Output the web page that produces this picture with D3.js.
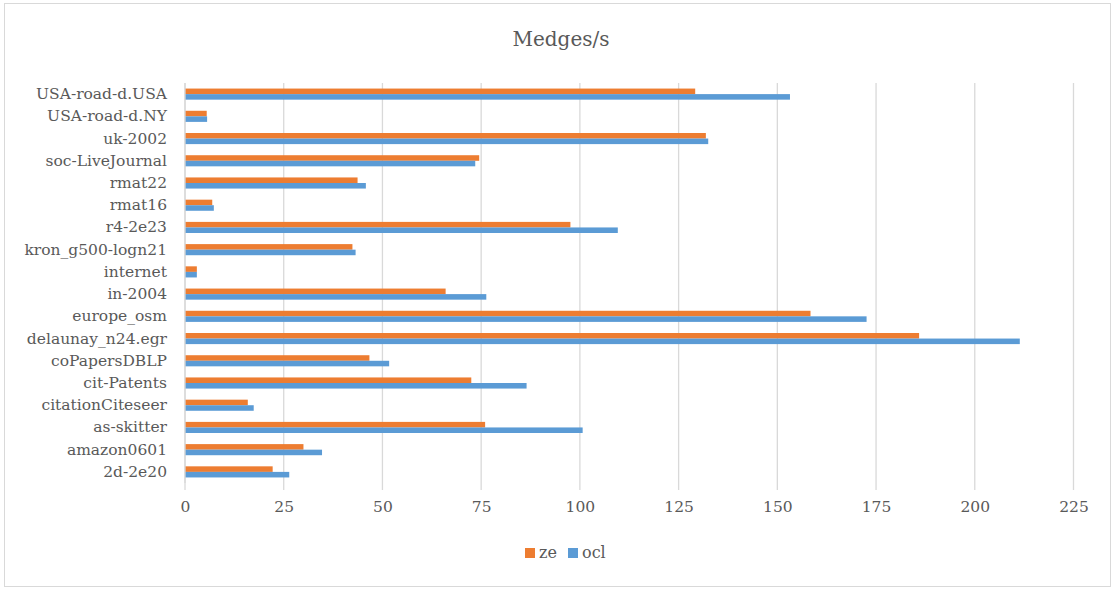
<!DOCTYPE html>
<html>
<head>
<meta charset="utf-8">
<script src="https://cdn.jsdelivr.net/npm/d3@7"></script>
<style>
  body { margin: 0; background: #fff; }
  text { font-family: "DejaVu Serif", serif; fill: #595959; }
</style>
</head>
<body>
<svg class="chart-svg"></svg>
<script>
var width = 1116, height = 590;
// categories listed top to bottom as in the chart
var categories = ['USA-road-d.USA','USA-road-d.NY','uk-2002','soc-LiveJournal','rmat22','rmat16',
  'r4-2e23','kron_g500-logn21','internet','in-2004','europe_osm','delaunay_n24.egr',
  'coPapersDBLP','cit-Patents','citationCiteseer','as-skitter','amazon0601','2d-2e20'];
var ze_vals  = [129.2, 5.5, 131.9, 74.5, 43.7, 6.9, 97.6, 42.4, 3.0, 66.0, 158.4, 185.9, 46.7, 72.5, 15.9, 76.0, 30.0, 22.2];
var ocl_vals = [153.2, 5.6, 132.5, 73.5, 45.8, 7.3, 109.6, 43.2, 3.0, 76.3, 172.6, 211.4, 51.7, 86.5, 17.4, 100.7, 34.7, 26.4];
var series = ['ze', 'ocl'];
var colors = ['#ED7D31', '#5B9BD5'];
var x_ticks = [0, 25, 50, 75, 100, 125, 150, 175, 200, 225];

var svg = d3.select('.chart-svg').attr('width', width).attr('height', height);

svg.append('rect')
  .attr('x', 4.5).attr('y', 3.5)
  .attr('width', 1106).attr('height', 583)
  .attr('fill', '#fff').attr('stroke', '#d9d9d9');

var x = d3.scaleLinear().domain([0, 225]).range([185, 1073.5]);
var y = d3.scaleBand().domain(categories).range([83, 483]);
var y_inner = d3.scaleBand().domain(series).range([y.bandwidth() * 0.25, y.bandwidth() * 0.75]);

// gridlines
svg.append('g').selectAll('line')
  .data(x_ticks)
  .enter().append('line')
  .attr('x1', function(d) { return x(d); })
  .attr('x2', function(d) { return x(d); })
  .attr('y1', 83).attr('y2', 490)
  .attr('stroke', '#d9d9d9').attr('stroke-width', 1.3);

var x_axis = svg.append('g')
  .attr('transform', 'translate(0,490)')
  .call(d3.axisBottom(x).tickValues(x_ticks).tickSize(0).tickPadding(11));
x_axis.select('.domain').remove();
x_axis.selectAll('text').style('font-size', '15.5px').style('font-family', '"DejaVu Serif", serif').attr('fill', '#595959');

var y_axis = svg.append('g')
  .attr('transform', 'translate(185,0)')
  .call(d3.axisLeft(y).tickSize(0).tickPadding(18));
y_axis.select('.domain').remove();
y_axis.selectAll('text').style('font-size', '15.5px').style('font-family', '"DejaVu Serif", serif').attr('fill', '#595959');

var all_vals = [ze_vals, ocl_vals];
for (var s_ind in series) {
  svg.append('g')
    .selectAll('rect')
    .data(all_vals[s_ind])
    .enter().append('rect')
    .attr('x', x(0))
    .attr('y', function(d, i) { return y(categories[i]) + y_inner(series[s_ind]); })
    .attr('width', function(d) { return x(d) - x(0); })
    .attr('height', y_inner.bandwidth())
    .attr('fill', colors[s_ind]);
}

// y baseline
svg.append('line')
  .attr('x1', x(0)).attr('x2', x(0))
  .attr('y1', 83).attr('y2', 483)
  .attr('stroke', '#d9d9d9').attr('stroke-width', 1.3);

svg.append('text')
  .attr('x', 561).attr('y', 46)
  .attr('text-anchor', 'middle')
  .style('font-size', '20px')
  .text('Medges/s');

// legend
var legend_x = [525, 568];
for (var l_ind in series) {
  var lg = svg.append('g').attr('transform', 'translate(' + legend_x[l_ind] + ',548)');
  lg.append('rect').attr('width', 10).attr('height', 10).attr('fill', colors[l_ind]);
  lg.append('text').attr('x', 14).attr('y', 10).style('font-size', '16px').text(series[l_ind]);
}
</script>
</body>
</html>
